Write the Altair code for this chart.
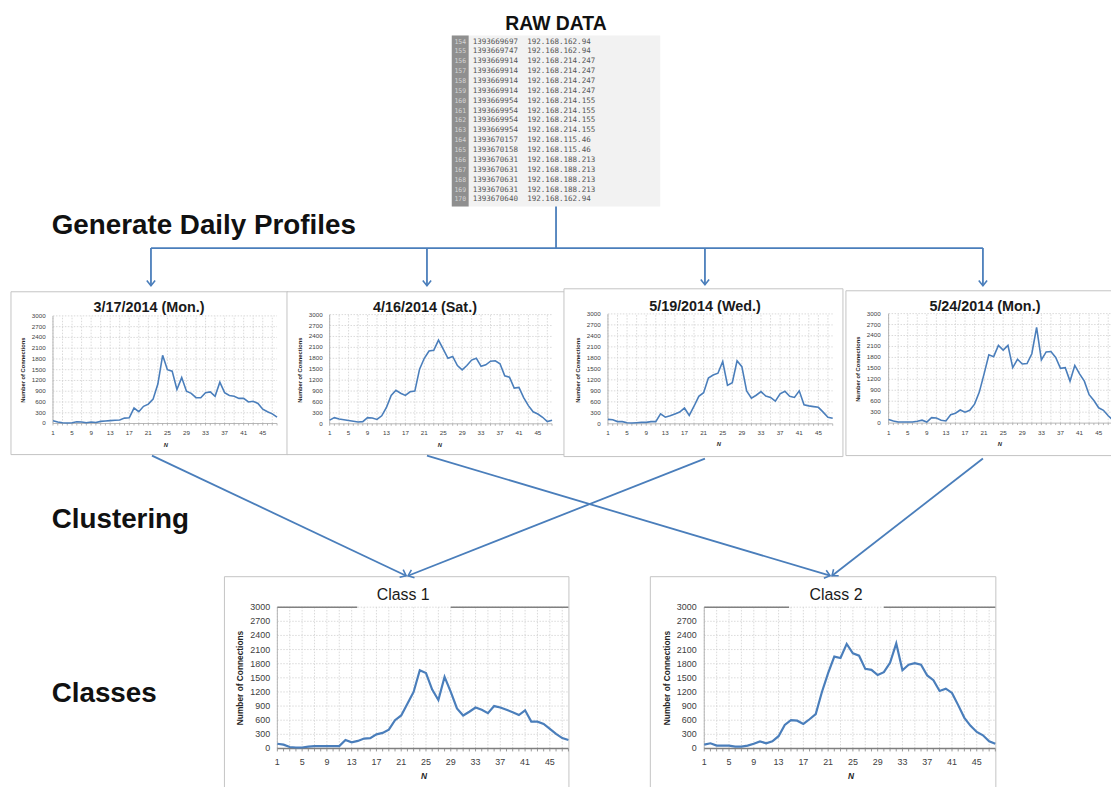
import math
import altair as alt
import pandas as pd

# ---------------- data ----------------
slots = list(range(1, 49))
profile_titles = ["3/17/2014 (Mon.)", "4/16/2014 (Sat.)", "5/19/2014 (Wed.)", "5/24/2014 (Mon.)"]
conn_0317 = [80, 40, 20, 15, 20, 50, 40, 20, 40, 30, 60, 70, 80, 90, 100, 150,
             160, 430, 330, 480, 540, 680, 1100, 1900, 1500, 1460, 950, 1280, 900, 840, 720, 720,
             860, 880, 760, 1150, 860, 780, 760, 700, 700, 600, 620, 560, 400, 330, 270, 180]
conn_0416 = [100, 170, 130, 110, 90, 70, 50, 60, 170, 160, 120, 220, 450, 780, 920, 840,
             780, 880, 900, 1500, 1800, 2000, 2020, 2300, 2050, 1800, 1850, 1600, 1480, 1600, 1750, 1800,
             1580, 1620, 1720, 1730, 1650, 1320, 1280, 980, 1000, 720, 500, 330, 270, 180, 60, 100]
conn_0519 = [120, 110, 60, 60, 30, 20, 30, 40, 40, 60, 60, 270, 180, 220, 270, 320,
             430, 230, 480, 750, 850, 1250, 1330, 1380, 1700, 1050, 1120, 1720, 1560, 900, 700, 780,
             880, 760, 720, 620, 820, 890, 750, 720, 900, 520, 490, 470, 450, 320, 180, 150]
conn_0524 = [100, 60, 30, 30, 30, 30, 50, 80, 30, 150, 140, 80, 60, 230, 270, 360,
             300, 350, 520, 850, 1350, 1870, 1820, 2130, 2000, 2130, 1520, 1750, 1620, 1630, 1900, 2620,
             1730, 1950, 1960, 1800, 1500, 1520, 1150, 1580, 1350, 1150, 780, 620, 420, 350, 200, 80]
class_titles = ["Class 1", "Class 2"]
class_1 = [100, 80, 30, 20, 20, 40, 50, 50, 50, 50, 50, 180, 130, 160, 210, 220,
           300, 330, 400, 600, 700, 950, 1200, 1660, 1600, 1250, 1030, 1520, 1200, 850, 700, 780,
           870, 820, 750, 900, 870, 820, 770, 710, 810, 570, 570, 520, 415, 310, 220, 180]
class_2 = [80, 110, 60, 60, 60, 40, 40, 60, 100, 150, 110, 150, 260, 500, 600, 590,
           520, 620, 730, 1200, 1600, 1950, 1920, 2220, 2020, 1970, 1690, 1670, 1560, 1620, 1820, 2230,
           1660, 1780, 1810, 1780, 1550, 1450, 1220, 1270, 1180, 920, 650, 480, 350, 280, 150, 100]
y_tick_values = [0, 300, 600, 900, 1200, 1500, 1800, 2100, 2400, 2700, 3000]
x_tick_values = [1, 5, 9, 13, 17, 21, 25, 29, 33, 37, 41, 45]
axis_title_y = "Number of Connections"
axis_title_x = "N"

raw_title = "RAW DATA"
raw_line_no = list(range(154, 171))
raw_time = ["1393669697", "1393669747", "1393669914", "1393669914", "1393669914", "1393669914",
            "1393669954", "1393669954", "1393669954", "1393669954", "1393670157", "1393670158",
            "1393670631", "1393670631", "1393670631", "1393670631", "1393670640"]
raw_ip = ["192.168.162.94", "192.168.162.94", "192.168.214.247", "192.168.214.247", "192.168.214.247",
          "192.168.214.247", "192.168.214.155", "192.168.214.155", "192.168.214.155", "192.168.214.155",
          "192.168.115.46", "192.168.115.46", "192.168.188.213", "192.168.188.213", "192.168.188.213",
          "192.168.188.213", "192.168.162.94"]
step_labels = ["Generate Daily Profiles", "Clustering", "Classes"]

# ---------------- layout / style ----------------
OFF = 8
W, H = 1111, 779
BLUE = "#4a7ebb"
FONT = "Liberation Sans"
GRID = "#d0d0d0"
AXIS = "#a6a6a6"
LABEL = "#404040"


def cx():
    return alt.Scale(domain=[OFF, OFF + W], range=[0, W], nice=False, zero=False)


def cy():
    return alt.Scale(domain=[OFF, OFF + H], range=[0, H], nice=False, zero=False)


layers = []

# panel boxes
boxes = pd.DataFrame({
    "x": [11, 289, 568, 852, 226, 655],
    "x2": [290, 569, 849, 1130, 573, 1003],
    "y": [291, 291, 288, 290, 578, 578],
    "y2": [455, 455, 457, 456, 800, 800],
})
layers.append(alt.Chart(boxes).mark_rect(fill="white", stroke="#c4c4c4", strokeWidth=1).encode(
    x=alt.X("x:Q", scale=cx(), axis=None), x2="x2:Q",
    y=alt.Y("y:Q", scale=cy(), axis=None), y2="y2:Q"))

# raw data table
tbl_bg = pd.DataFrame({"x": [455, 455], "x2": [665, 472], "y": [33, 33], "y2": [205, 205],
                       "c": ["#f2f2f2", "#8f8f8f"]})
layers.append(alt.Chart(tbl_bg).mark_rect().encode(
    x=alt.X("x:Q", scale=cx(), axis=None), x2="x2:Q",
    y=alt.Y("y:Q", scale=cy(), axis=None), y2="y2:Q",
    color=alt.Color("c:N", scale=None, legend=None)))

raw_df = pd.DataFrame({"row": list(range(len(raw_time))), "no": [str(v) for v in raw_line_no],
                       "t": raw_time, "ip": raw_ip})
row_scale = alt.Scale(domain=[0, len(raw_time) - 1], range=[39 - OFF, 198 - OFF], nice=False, zero=False)
for field, xpos, color, size, align in [("no", 463.5, "#d4d4d4", 6.5, "center"),
                                         ("t", 476, "#555555", 7.6, "left"),
                                         ("ip", 531, "#555555", 7.6, "left")]:
    layers.append(alt.Chart(raw_df).mark_text(font="DejaVu Sans Mono", fontSize=size, color=color,
                                              align=align, baseline="middle").encode(
        x=alt.value(xpos - OFF), y=alt.Y("row:Q", scale=row_scale, axis=None), text=f"{field}:N"))


def single_text(text, x, y, size, bold=True, align="left", color="#111111", angle=None, italic=False,
                font=FONT, baseline="alphabetic"):
    kw = dict(font=font, fontSize=size, fontWeight="bold" if bold else "normal", align=align,
              color=color, baseline=baseline)
    if angle is not None:
        kw["angle"] = angle
    if italic:
        kw["fontStyle"] = "italic"
    return alt.Chart(pd.DataFrame({"t": [text]})).mark_text(**kw).encode(
        x=alt.value(x - OFF), y=alt.value(y - OFF), text="t:N")


layers.append(single_text(raw_title, 560, 27, 19.5, align="center"))
for lab, yb in zip(step_labels, [233, 529, 704]):
    layers.append(single_text(lab, 52, yb, 28))


def panel(values, title, g):
    sx = alt.Scale(domain=[1, 48], range=[g["n1"] - OFF, g["n48"] - OFF], nice=False, zero=False)
    sy = alt.Scale(domain=[0, 3000], range=[g["y0"] - OFF, g["y3000"] - OFF], nice=False, zero=False)

    def X(f):
        return alt.X(f, scale=sx, axis=None)

    def Y(f):
        return alt.Y(f, scale=sy, axis=None)

    out = []
    vg = pd.DataFrame({"n": list(range(1, 49, 2)), "lo": 0, "hi": 3000})
    out.append(alt.Chart(vg).mark_rule(color=GRID, strokeWidth=0.8, strokeDash=[1.5, 1.5]).encode(
        x=X("n:Q"), y=Y("lo:Q"), y2="hi:Q"))
    hg = pd.DataFrame({"v": y_tick_values[1:], "a": 1, "b": 48})
    out.append(alt.Chart(hg).mark_rule(color=GRID, strokeWidth=0.8, strokeDash=[1.5, 1.5]).encode(
        x=X("a:Q"), x2="b:Q", y=Y("v:Q")))
    # axes
    out.append(alt.Chart(pd.DataFrame({"n": [1], "lo": [0], "hi": [3000]})).mark_rule(
        color=AXIS, strokeWidth=0.8).encode(x=X("n:Q"), y=Y("lo:Q"), y2="hi:Q"))
    out.append(alt.Chart(pd.DataFrame({"a": [1], "b": [48], "v": [0]})).mark_rule(
        color=g["xaxis"], strokeWidth=g["xaxis_w"]).encode(x=X("a:Q"), x2="b:Q", y=Y("v:Q")))
    out.append(alt.Chart(pd.DataFrame({"n": slots})).mark_rule(color=g["xaxis"], strokeWidth=0.8).encode(
        x=X("n:Q"), y=alt.value(g["y0"] - OFF), y2=alt.value(g["y0"] - OFF + g["tick"])))
    if "band" in g:
        a, b = g["band"]
        out.append(alt.Chart(pd.DataFrame({"a": [1, b], "b": [a, 48], "v": [3000, 3000]})).mark_rule(
            color="#808080", strokeWidth=1.6).encode(x=X("a:Q"), x2="b:Q", y=Y("v:Q")))
    # line
    ld = pd.DataFrame({"n": slots, "v": values})
    out.append(alt.Chart(ld).mark_line(color=BLUE, strokeWidth=g["lw"]).encode(x=X("n:Q"), y=Y("v:Q")))
    # tick labels
    yl = pd.DataFrame({"v": y_tick_values, "lab": [str(v) for v in y_tick_values]})
    out.append(alt.Chart(yl).mark_text(font=FONT, fontSize=g["fs"], color=LABEL, align="right",
                                       baseline="middle").encode(
        x=alt.value(g["ylab"] - OFF), y=Y("v:Q"), text="lab:N"))
    xl = pd.DataFrame({"n": x_tick_values, "lab": [str(v) for v in x_tick_values]})
    out.append(alt.Chart(xl).mark_text(font=FONT, fontSize=g["fs"], color=LABEL, align="center",
                                       baseline="middle").encode(
        x=X("n:Q"), y=alt.value(g["xlab"] - OFF), text="lab:N"))
    # titles
    out.append(single_text(title, g["tx"], g["ty"], g["tfs"], bold=g["tbold"], align="center",
                           color="#1a1a1a"))
    out.append(single_text(axis_title_y, g["ytx"], g["yty"], g["ytfs"], align="center", angle=270,
                           color="#262626", baseline="middle"))
    out.append(single_text(axis_title_x, g["nx"], g["ny"], g["ytfs"], align="center", italic=True,
                           color="#262626", baseline="middle"))
    return out


small_common = dict(lw=1.6, fs=6.3, tfs=14.5, tbold=True, ytfs=5.8, xaxis=AXIS, xaxis_w=0.8, tick=2)
geoms = [
    dict(n1=53.3, n48=279, y0=423.7, y3000=315.3, ylab=46, xlab=433, tx=150, ty=311,
         ytx=23, yty=370, nx=167, ny=445, **small_common),
    dict(n1=332, n48=556, y0=424, y3000=314, ylab=325, xlab=433.7, tx=428, ty=311,
         ytx=302, yty=370, nx=443, ny=445, **small_common),
    dict(n1=612.3, n48=838.7, y0=424, y3000=313.3, ylab=605, xlab=433.7, tx=710, ty=310,
         ytx=582, yty=370, nx=724, ny=444, **small_common),
    dict(n1=895, n48=1121, y0=423.3, y3000=313, ylab=887, xlab=433.7, tx=992, ty=310,
         ytx=864, yty=369, nx=1007, ny=444, **small_common),
]
class_common = dict(lw=2.2, fs=9, tfs=16, tbold=False, ytfs=8.4, xaxis="#7f7f7f", xaxis_w=1.4, tick=3)
class_geoms = [
    dict(n1=279.3, n48=572.5, y0=751, y3000=608.7, ylab=272, xlab=765, tx=406, ty=601,
         ytx=242, yty=680, nx=427, ny=779, band=(13.9, 29.0), **class_common),
    dict(n1=709.3, n48=1002.5, y0=751, y3000=608.7, ylab=701.7, xlab=765, tx=842, ty=601,
         ytx=672, yty=680, nx=857, ny=779, band=(14.7, 30.0), **class_common),
]

for vals, title, g in zip([conn_0317, conn_0416, conn_0519, conn_0524], profile_titles, geoms):
    layers.extend(panel(vals, title, g))
for vals, title, g in zip([class_1, class_2], class_titles, class_geoms):
    layers.extend(panel(vals, title, g))

# flow connectors
segs = pd.DataFrame({
    "x": [560, 152, 152, 430, 710, 990, 153, 430, 710, 990],
    "y": [205, 247, 247, 247, 247, 247, 456, 456, 459, 459],
    "x2": [560, 990, 152, 430, 710, 990, 409, 836, 411, 838],
    "y2": [247, 247, 285, 285, 284, 285, 577, 577, 577, 577],
    "head": [0, 0, 1, 1, 1, 1, 1, 1, 1, 1],
})
segs["ang"] = [(math.degrees(math.atan2(r.y2 - r.y, r.x2 - r.x)) + 360) % 360 for r in segs.itertuples()]
layers.append(alt.Chart(segs).mark_rule(color=BLUE, strokeWidth=1.8).encode(
    x=alt.X("x:Q", scale=cx(), axis=None), x2="x2:Q",
    y=alt.Y("y:Q", scale=cy(), axis=None), y2="y2:Q"))
heads = segs[segs["head"] == 1]
layers.append(alt.Chart(heads).mark_point(shape="M-1,-0.8L0,0L-1,0.8", filled=False, size=110,
                                           strokeWidth=1.6, color=BLUE, opacity=1).encode(
    x=alt.X("x2:Q", scale=cx(), axis=None),
    y=alt.Y("y2:Q", scale=cy(), axis=None),
    angle=alt.Angle("ang:Q", scale=None)))

chart = alt.layer(*layers).resolve_scale(x="independent", y="independent").properties(
    width=W, height=H, padding=0, autosize="none", background="white"
).configure_view(stroke=None)

chart.save("out.html", embed_options={"renderer": "svg", "actions": False})
